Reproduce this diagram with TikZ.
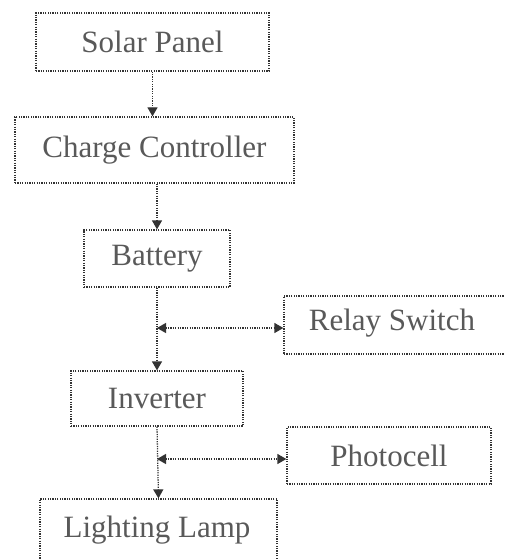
\documentclass[tikz,border=0pt]{standalone}
\usepackage{fontspec}
\setmainfont{Liberation Serif}
\usetikzlibrary{arrows.meta,calc}
\begin{document}
\begin{tikzpicture}[x=1pt,y=-1pt,
  blk/.style={draw=black!80, dash pattern=on 1.2pt off 1.2pt, line width=1.3pt, inner sep=0pt,
    font=\fontsize{31}{34}\selectfont, text=black!65},
  lbl/.style={text=black!65, font=\fontsize{31}{34}\selectfont},
  conn/.style={draw=black!80, dash pattern=on 1.2pt off 1.2pt, line width=1.3pt,
    -{Triangle[length=9pt,width=10pt]}},
  biconn/.style={draw=black!80, dash pattern=on 1.2pt off 1.2pt, line width=1.3pt,
    {Triangle[length=9pt,width=10pt]}-{Triangle[length=9pt,width=10pt]}}]
\useasboundingbox (0,0) rectangle (505,559);
\clip (0,0) rectangle (505,559);
\node[blk, minimum width=233pt, minimum height=58pt] (solar) at (152.5,42) {Solar Panel};
\node[blk, minimum width=279pt, minimum height=66pt] (charge) at (154.5,150) {Charge Controller};
\node[blk, minimum width=146pt, minimum height=57pt] (battery) at (157,258.5) {Battery};
\node[blk, minimum width=250pt, minimum height=58pt] (relay) at (409,325) {};
\node[lbl] (relaytxt) at (392,323) {Relay Switch};
\node[blk, minimum width=172pt, minimum height=55pt] (inverter) at (157,398.5) {Inverter};
\node[blk, minimum width=204pt, minimum height=57pt] (photo) at (389,455.5) {Photocell};
\node[blk, minimum width=237pt, minimum height=70pt] (lamp) at (158.5,534) {};
\node[lbl] (lamptxt) at (157,530) {Lighting Lamp};
\coordinate (j1) at (157,328);
\coordinate (j2) at (157,459);
\draw[conn] (solar.south) -- (solar.south |- charge.north);
\draw[conn] (charge.south -| battery.north) -- (battery.north);
\draw[conn] (battery.south) -- (inverter.north);
\draw[conn] (inverter.south) -- (lamp.north);
\draw[biconn] (j1) -- (j1 -| relay.west);
\draw[biconn] (j2) -- (j2 -| photo.west);
\end{tikzpicture}
\end{document}
